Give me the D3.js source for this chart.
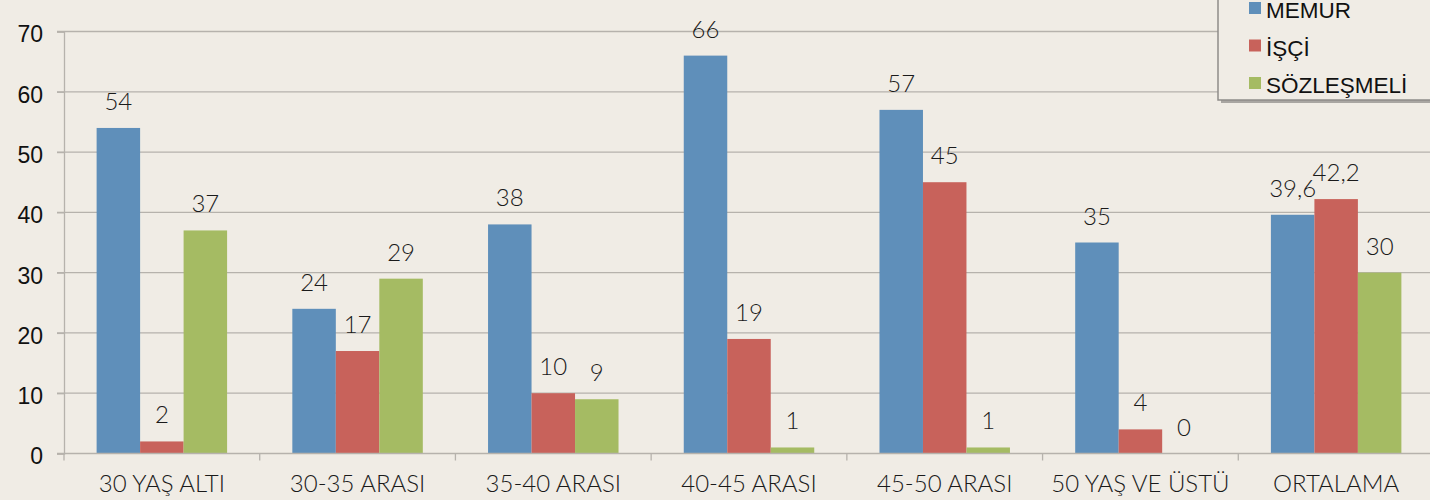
<!DOCTYPE html>
<html>
<head>
<meta charset="utf-8">
<script src="https://cdn.jsdelivr.net/npm/d3@7"></script>
<style>
    body { margin: 0; background: #f0ece5; }
    svg { display: block; }
</style>
</head>
<body>
<svg id="chart"></svg>
<script>
const categories = ["30 YAŞ ALTI", "30-35 ARASI", "35-40 ARASI", "40-45 ARASI", "45-50 ARASI", "50 YAŞ VE ÜSTÜ", "ORTALAMA"];
const seriesNames = ["MEMUR", "İŞÇİ", "SÖZLEŞMELİ"];
const memur = [54, 24, 38, 66, 57, 35, 39.6];
const isci = [2, 17, 10, 19, 45, 4, 42.2];
const sozlesmeli = [37, 29, 9, 1, 1, 0, 30];
const yTicks = [0, 10, 20, 30, 40, 50, 60, 70];

const colors = ["#5f8fba", "#c8625b", "#a5bb63"];

const width = 1430, height = 500;
const margin = { top: 31.5, left: 64, right: -4, bottom: 46.5 };

const svg = d3.select("#chart").attr("width", width).attr("height", height);

const series = [memur, isci, sozlesmeli];
const data = categories.map((c, i) => ({
    category: c,
    values: seriesNames.map((s, j) => ({ name: s, value: series[j][i], idx: j }))
}));

const x0 = d3.scaleBand()
    .domain(categories)
    .range([margin.left, width - margin.right])
    .padding(0);

const x1 = d3.scaleBand()
    .domain(seriesNames)
    .range([x0.bandwidth() / 6, x0.bandwidth() * 5 / 6])
    .padding(0);

const y = d3.scaleLinear().domain([0, 70]).range([height - margin.bottom, margin.top]);

const labelFont = "Lato, 'Open Sans', sans-serif";

// gridlines
svg.append("g")
    .selectAll("line")
    .data(yTicks.filter(d => d > 0))
    .join("line")
    .attr("x1", margin.left - 7)
    .attr("x2", width)
    .attr("y1", d => y(d))
    .attr("y2", d => y(d))
    .attr("stroke", "#b6b2ac")
    .attr("stroke-width", 1.3);

// bars
const groups = svg.append("g")
    .selectAll("g")
    .data(data)
    .join("g")
    .attr("transform", d => `translate(${x0(d.category)},0)`);

groups.selectAll("rect")
    .data(d => d.values)
    .join("rect")
    .attr("x", d => x1(d.name))
    .attr("y", d => y(d.value))
    .attr("width", x1.bandwidth())
    .attr("height", d => y(0) - y(d.value))
    .attr("fill", d => colors[d.idx]);

const fmt = v => String(v).replace(".", ",");

groups.selectAll("text")
    .data(d => d.values)
    .join("text")
    .attr("x", d => x1(d.name) + x1.bandwidth() / 2)
    .attr("y", d => y(d.value) - 18)
    .attr("text-anchor", "middle")
    .style("font-family", labelFont)
    .style("font-weight", 300)
    .style("font-size", "24px")
    .style("fill", "#1a1a1a")
    .text(d => fmt(d.value));

// y axis
const yAxis = svg.append("g")
    .attr("transform", `translate(${margin.left},0)`)
    .call(d3.axisLeft(y).tickValues(yTicks).tickSize(7).tickPadding(14));
yAxis.select(".domain").attr("stroke", "#b6b2ac").attr("stroke-width", 1.3);
yAxis.selectAll(".tick line").attr("stroke", "#b6b2ac").attr("stroke-width", 1.3);
yAxis.selectAll(".tick text")
    .attr("dy", "0.45em")
    .style("font-family", "'Liberation Sans', Arial, sans-serif")
    .style("font-size", "23px")
    .style("fill", "#111");

// x axis
const xAxisG = svg.append("g")
    .attr("transform", `translate(0,${y(0)})`);
xAxisG.append("line")
    .attr("x1", margin.left - 7)
    .attr("x2", width)
    .attr("stroke", "#b6b2ac")
    .attr("stroke-width", 1.3);
xAxisG.selectAll(".sep")
    .data(categories)
    .join("line")
    .attr("class", "sep")
    .attr("x1", d => x0(d))
    .attr("x2", d => x0(d))
    .attr("y1", 0)
    .attr("y2", 7)
    .attr("stroke", "#b6b2ac")
    .attr("stroke-width", 1.3);
xAxisG.selectAll(".lbl")
    .data(categories)
    .join("text")
    .attr("class", "lbl")
    .attr("x", d => x0(d) + x0.bandwidth() / 2)
    .attr("y", 38)
    .attr("text-anchor", "middle")
    .style("font-family", labelFont)
    .style("font-weight", 300)
    .style("font-size", "24px")
    .style("fill", "#1a1a1a")
    .text(d => d);

// legend
const legend = svg.append("g");
legend.append("rect")
    .attr("x", 1221)
    .attr("y", -10)
    .attr("width", 230)
    .attr("height", 113)
    .attr("fill", "#a9a6a2");
legend.append("rect")
    .attr("x", 1218)
    .attr("y", -10)
    .attr("width", 230)
    .attr("height", 110)
    .attr("fill", "#f0ece5")
    .attr("stroke", "#8e8c89")
    .attr("stroke-width", 1.5);

const items = legend.selectAll(".item")
    .data(seriesNames)
    .join("g")
    .attr("class", "item")
    .attr("transform", (d, i) => `translate(1249,${2 + i * 37.5})`);
items.append("rect")
    .attr("width", 12)
    .attr("height", 12)
    .attr("fill", (d, i) => colors[i]);
items.append("text")
    .attr("x", 17)
    .attr("y", 16)
    .style("font-family", "'Liberation Sans', Arial, sans-serif")
    .style("font-size", "22.5px")
    .style("fill", "#111")
    .text(d => d);
</script>
</body>
</html>
